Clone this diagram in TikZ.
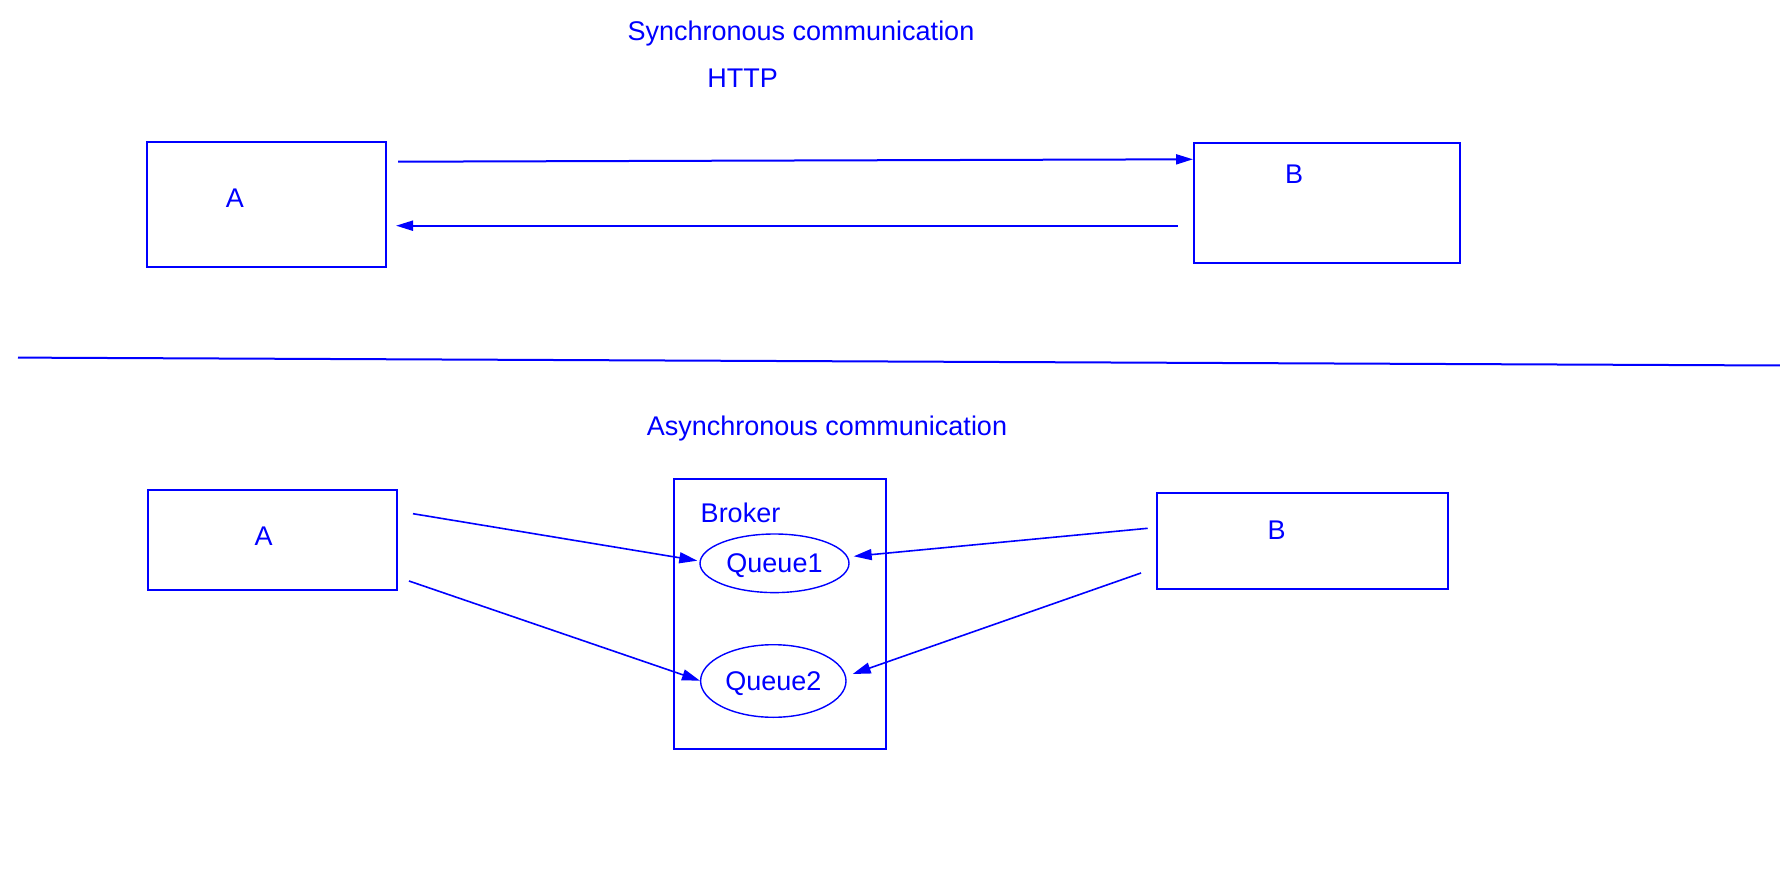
\documentclass[tikz,border=0pt]{standalone}
\usepackage{fontspec}
\setmainfont{Liberation Sans}
\usetikzlibrary{shapes.geometric,arrows.meta}
\definecolor{pblue}{RGB}{0,0,255}
\begin{document}
\begin{tikzpicture}[x=1pt,y=-1pt,
  every node/.style={text=pblue,font=\fontsize{27}{31}\selectfont},
  box/.style={draw=pblue,line width=2pt,rectangle,inner sep=0pt},
  lbl/.style={anchor=base,inner sep=0pt},
  queue/.style={draw=pblue,ellipse,line width=1.4pt,inner sep=0pt,text height=19pt,text depth=0pt},
  arr/.style={draw=pblue,line width=2pt,-{Triangle[length=17pt,width=10pt]}},
  arrb/.style={draw=pblue,line width=1.6pt,-{Triangle[length=18pt,width=11pt]}},
  sep/.style={draw=pblue,line width=2pt}]
\useasboundingbox (0,0) rectangle (1780,890);
\fill[white] (0,0) rectangle (1780,890);

% titles
\node[lbl] (synct) at (801,40.7) {Synchronous communication};
\node[lbl] (http) at (742.5,88) {HTTP};
\node[lbl] (asynct) at (827,435) {Asynchronous communication};

% top boxes
\node[box,minimum width=239pt,minimum height=125pt] (A1) at (266.2,204.4) {};
\node[box,minimum width=266.3pt,minimum height=120pt] (B1) at (1326.9,202.7) {};
\node[lbl] (A1l) at (235,207.3) {A};
\node[lbl] (B1l) at (1294,183.3) {B};

% top arrows
\coordinate (t1s) at (398,161.7);
\coordinate (t1e) at (1193,159.3);
\coordinate (t2s) at (1177.7,225.7);
\coordinate (t2e) at (396,225.7);
\draw[arr] (t1s) -- (t1e);
\draw[arr] (t2s) -- (t2e);

% separator
\coordinate (sepL) at (18,357.6);
\coordinate (sepR) at (1780,365.5);
\draw[sep] (sepL) -- (sepR);

% bottom boxes
\node[box,minimum width=249.3pt,minimum height=100pt] (A2) at (272.4,539.7) {};
\node[box,minimum width=290.2pt,minimum height=96.5pt] (B2) at (1302.4,541) {};
\node[box,minimum width=212pt,minimum height=270pt] (Br) at (780,613.7) {};
\node[lbl] (A2l) at (263.7,545.3) {A};
\node[lbl] (B2l) at (1276.7,539.3) {B};
\node[lbl] (Brl) at (740.5,522.7) {Broker};

% queues
\node[queue,minimum width=149pt,minimum height=58.6pt] (Q1) at (774.5,563.3) {Queue1};
\node[queue,minimum width=145.4pt,minimum height=72.6pt] (Q2) at (773.3,681) {Queue2};

% bottom arrows
\coordinate (a1s) at (413,513.7);
\coordinate (a1e) at (697.3,560.7);
\coordinate (a2s) at (409,581);
\coordinate (a2e) at (700,680.7);
\coordinate (b1s) at (1147.7,528.3);
\coordinate (b1e) at (853.7,556.3);
\coordinate (b2s) at (1141,573);
\coordinate (b2e) at (852.7,674);
\draw[arrb] (a1s) -- (a1e);
\draw[arrb] (a2s) -- (a2e);
\draw[arrb] (b1s) -- (b1e);
\draw[arrb] (b2s) -- (b2e);
\end{tikzpicture}
\end{document}
